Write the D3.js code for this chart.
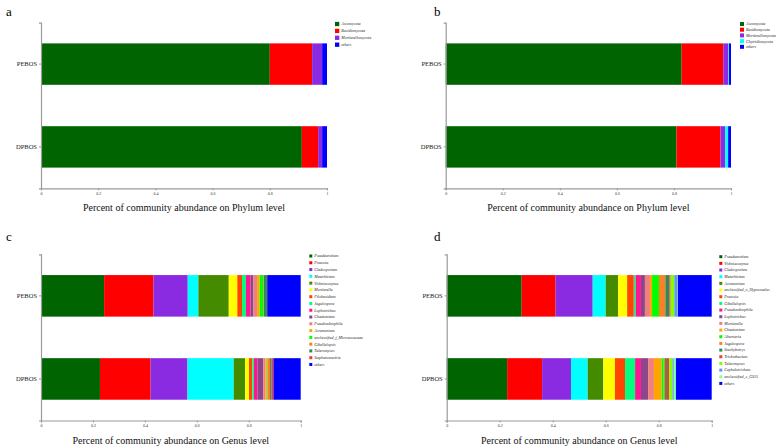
<!DOCTYPE html>
<html><head><meta charset="utf-8">
<script src="https://cdn.jsdelivr.net/npm/d3@7"></script>
<style>body{margin:0;background:#fff}svg{display:block}</style>
</head><body>
<svg id="chart" width="784" height="448"></svg>
<script>
// ---------- DATA ----------
const samples = ["PEBOS", "DPBOS"];
const ticks = [0, 0.2, 0.4, 0.6, 0.8, 1];

const phylumTaxaA = ["Ascomycota", "Basidiomycota", "Mortierellomycota", "others"];
const phylumA_PEBOS = [0.800, 0.148, 0.035, 0.017];
const phylumA_DPBOS = [0.912, 0.057, 0.014, 0.017];

const phylumTaxaB = ["Ascomycota", "Basidiomycota", "Mortierellomycota", "Chytridiomycota", "others"];
const phylumB_PEBOS = [0.827, 0.146, 0.018, 0.002, 0.007];
const phylumB_DPBOS = [0.809, 0.154, 0.017, 0.010, 0.010];

const genusTaxaC = ["Pseudeurotium", "Preussia", "Cladosporium", "Metarhizium", "Vishniacozyma",
  "Mortierella", "Filobasidium", "Jugulospora", "Lophotrichus", "Chaetomium", "Pseudombrophila",
  "Acremonium", "unclassified_f_Microascaceae", "Gibellulopsis", "Talaromyces", "Stephanonectria", "others"];
const genusC_PEBOS = [0.243, 0.190, 0.132, 0.041, 0.117, 0.033, 0.018, 0.015, 0.018, 0.011, 0.014,
  0.010, 0.014, 0.002, 0.012, 0.001, 0.129];
const genusC_DPBOS = [0.227, 0.195, 0.142, 0.178, 0.044, 0.015, 0.013, 0.006, 0.013, 0.023, 0.008,
  0.005, 0.003, 0.010, 0.005, 0.008, 0.105];

const genusTaxaD = ["Pseudeurotium", "Vishniacozyma", "Cladosporium", "Metarhizium", "Acremonium",
  "unclassified_o_Hypocreales", "Preussia", "Gibellulopsis", "Pseudombrophila", "Lophotrichus",
  "Mortierella", "Chaetomium", "Alternaria", "Jugulospora", "Stachybotrys", "Trichothecium",
  "Talaromyces", "Cephalotrichum", "unclassified_c_GS15", "others"];
const genusD_PEBOS = [0.283, 0.128, 0.140, 0.049, 0.047, 0.034, 0.025, 0.007, 0.020, 0.015,
  0.019, 0.008, 0.026, 0.024, 0.015, 0.005, 0.014, 0.011, 0.002, 0.128];
const genusD_DPBOS = [0.228, 0.132, 0.109, 0.063, 0.059, 0.044, 0.038, 0.038, 0.022, 0.027,
  0.022, 0.029, 0.008, 0.005, 0.007, 0.009, 0.012, 0.005, 0.008, 0.135];

const palette = ["#006400", "#FF0000", "#8A2BE2", "#00FFFF", "#458B00", "#FFFF00", "#FF4500",
  "#00FF7F", "#FF1493", "#8B4789", "#F08080", "#FFA500", "#00FF00", "#FF7F24", "#2E8B57",
  "#EE3B3B", "#7FFF00", "#6495ED", "#7FFFAA"];
const othersColor = "#0000FF";

// ---------- DRAW ----------
const svg = d3.select("#chart");
const serif = "'Liberation Serif','Times New Roman',serif";

function panel(cfg) {
  const g = svg.append("g");
  const x = d3.scaleLinear().domain([0, 1]).range([cfg.x0, cfg.x1]);
  const y = d3.scaleBand().domain(samples).range([cfg.y0, cfg.y1]).paddingInner(0.5).paddingOuter(0.25);
  const color = (name, i) => name === "others" ? othersColor : palette[i];

  // bars
  const rows = samples.map((s, si) => {
    const vals = cfg.values[si];
    let acc = 0;
    return cfg.taxa.map((t, i) => { const d = {s, t, i, a: acc, b: acc + vals[i]}; acc += vals[i]; return d; });
  });
  rows.forEach(r => {
    g.selectAll(null).data(r).enter().append("rect")
      .attr("x", d => x(d.a)).attr("width", d => Math.max(0, x(d.b) - x(d.a)))
      .attr("y", d => y(d.s)).attr("height", y.bandwidth())
      .attr("fill", d => color(d.t, d.i));
  });

  // x axis
  const xa = g.append("g").attr("transform", `translate(0,${cfg.y1})`)
    .call(d3.axisBottom(x).tickValues(ticks).tickFormat(d3.format("~g")).tickSizeOuter(0).tickSize(2).tickPadding(2));
  xa.select(".domain").attr("stroke", "#9a9a9a").attr("stroke-width", 1.2);
  xa.selectAll(".tick line").attr("stroke", "#9a9a9a");
  xa.selectAll("text").attr("font-family", serif).attr("font-size", 4).attr("fill", "#333");

  // y axis
  const ya = g.append("g").attr("transform", `translate(${cfg.x0},0)`)
    .call(d3.axisLeft(y).tickSizeOuter(0).tickSize(2).tickPadding(2));
  ya.select(".domain").attr("stroke", "#9a9a9a").attr("stroke-width", 1.2);
  ya.selectAll(".tick line").attr("stroke", "#9a9a9a");
  ya.selectAll("text").attr("font-family", serif).attr("font-size", 6.5).attr("fill", "#222");

  // title
  g.append("text").attr("x", (cfg.x0 + cfg.x1) / 2).attr("y", cfg.y1 + 23)
    .attr("text-anchor", "middle").attr("font-family", serif).attr("font-size", 10).attr("fill", "#111")
    .text(cfg.title);

  // panel letter
  g.append("text").attr("x", cfg.lx).attr("y", cfg.ly).attr("font-family", serif)
    .attr("font-size", 13).attr("fill", "#000").text(cfg.letter);

  // legend
  const lg = g.append("g");
  cfg.taxa.forEach((t, i) => {
    const cy = cfg.legY + i * cfg.legStep;
    lg.append("rect").attr("x", cfg.legX).attr("y", cy - cfg.sq / 2).attr("width", cfg.sq).attr("height", cfg.sq)
      .attr("fill", color(t, i));
    lg.append("text").attr("x", cfg.legX + cfg.sq + 2).attr("y", cy).attr("dy", "0.35em")
      .attr("font-family", serif).attr("font-style", "italic").attr("font-size", 4).attr("fill", "#222").text(t);
  });
}

panel({letter: "a", lx: 6, ly: 16, x0: 41, x1: 327, y0: 22.7, y1: 188.3,
  taxa: phylumTaxaA, values: [phylumA_PEBOS, phylumA_DPBOS],
  title: "Percent of community abundance on Phylum level",
  legX: 335, legY: 24, legStep: 6.9, sq: 4.3});
panel({letter: "b", lx: 434, ly: 16, x0: 445.7, x1: 731, y0: 22.7, y1: 188.3,
  taxa: phylumTaxaB, values: [phylumB_PEBOS, phylumB_DPBOS],
  title: "Percent of community abundance on Phylum level",
  legX: 740, legY: 24, legStep: 5.7, sq: 4});
panel({letter: "c", lx: 6, ly: 241, x0: 41, x1: 300.7, y0: 254.3, y1: 420.5,
  taxa: genusTaxaC, values: [genusC_PEBOS, genusC_DPBOS],
  title: "Percent of community abundance on Genus level",
  legX: 309.3, legY: 256, legStep: 6.78, sq: 3});
panel({letter: "d", lx: 434, ly: 241, x0: 446.7, x1: 711.7, y0: 254.3, y1: 420.5,
  taxa: genusTaxaD, values: [genusD_PEBOS, genusD_DPBOS],
  title: "Percent of community abundance on Genus level",
  legX: 719.3, legY: 256.7, legStep: 6.67, sq: 3});
</script>
</body></html>
